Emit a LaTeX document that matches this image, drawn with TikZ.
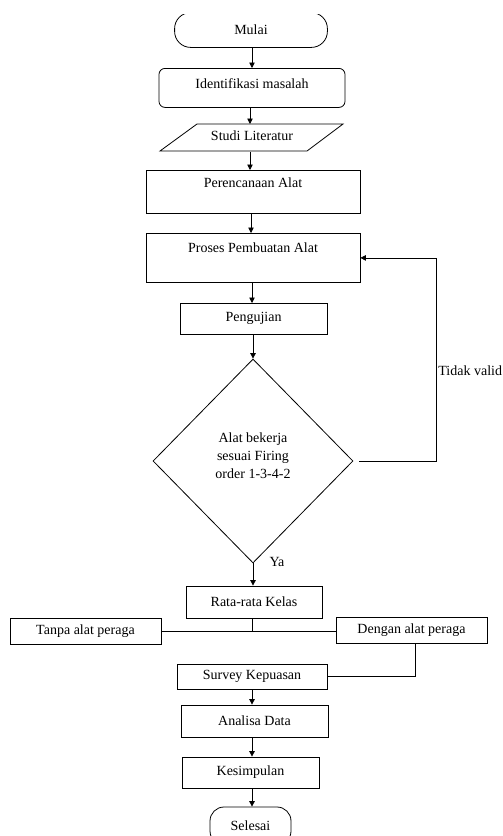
\documentclass[tikz,border=0pt]{standalone}
\usepackage{fontspec}
\setmainfont{Liberation Serif}
\usetikzlibrary{shapes.geometric,arrows.meta,calc}
\begin{document}
\begin{tikzpicture}[x=1pt,y=-1pt,
  font=\fontsize{14}{18}\selectfont,
  line width=0.8pt,
  box/.style={draw, rectangle, inner sep=0pt},
  txt/.style={inner sep=0pt},
  arr/.style={-{Triangle[length=5.5pt,width=5.5pt]}}]
\useasboundingbox (0,0) rectangle (503,836);
\clip (0,0) rectangle (503,836);

% Start terminator (top edge cut off by the page edge in the reference)
\node[txt, minimum width=152, minimum height=34] (mulai) at (251,30) {Mulai};
\begin{scope}
  \clip (150,14.5) rectangle (350,60);
  \draw[rounded corners=16] (mulai.south west) rectangle (mulai.north east);
\end{scope}

\node[box, rounded corners=6, minimum width=186, text height=20, text depth=19, anchor=north] (ident) at (252,68) {Identifikasi masalah};

\node[txt, minimum width=146, text height=16, text depth=11, anchor=north] (studi) at (252,124) {Studi Literatur};
\draw (197,124) -- (343,124) -- (307,151) -- (160,151) -- cycle;

\node[box, minimum width=214, text height=17, text depth=26, anchor=north] (renc) at (253,170) {Perencanaan Alat};
\node[box, minimum width=214, text height=19, text depth=30, anchor=north] (proses) at (253,233) {Proses Pembuatan Alat};
\node[box, minimum width=147, text height=18, text depth=13, anchor=north] (peng) at (253.5,303) {Pengujian};

\node[diamond, draw, minimum width=200, minimum height=204, inner sep=0pt] (dia) at (253,461) {};
\node[txt, align=center] (diatext) at (253,456) {Alat bekerja\\sesuai Firing\\order 1-3-4-2};
\node[txt] (ya) at (277,562) {Ya};
\node[txt, anchor=west] (tv) at (438,371) {Tidak valid};

\node[box, minimum width=136, minimum height=32] (rata) at (254,602) {Rata-rata Kelas};
\node[box, minimum width=151, minimum height=26] (tanpa) at (85.5,631) {Tanpa alat peraga};
\node[box, minimum width=151, minimum height=26] (dengan) at (411.5,630.5) {Dengan alat peraga};
\node[box, minimum width=150, minimum height=25] (survey) at (252,676.5) {Survey Kepuasan};
\node[box, minimum width=147, minimum height=32] (analisa) at (254.5,721) {Analisa Data};
\node[box, minimum width=137, minimum height=31] (kes) at (250.5,772.5) {Kesimpulan};
\node[box, rounded corners=14, minimum width=81, minimum height=38] (selesai) at (250.5,826) {Selesai};

% connectors
\coordinate (ax) at (252,0);
\coordinate (fb) at (436,0);
\coordinate (dj) at (415,0);
\draw[arr] (mulai.south -| ax) -- (ident.north -| ax);
\draw[arr] (ident.south -| 250,0) -- (studi.north -| 250,0);
\draw[arr] (studi.south -| 250,0) -- (renc.north -| 250,0);
\draw[arr] (renc.south -| 251,0) -- (proses.north -| 251,0);
\draw[arr] (proses.south -| ax) -- (peng.north -| ax);
\draw[arr] (peng.south -| dia.north) -- (dia.north);
\draw[arr] ([xshift=6pt]dia.east) -- (fb |- dia.east) -- (fb |- proses.east) -- (proses.east);
\draw[arr] (dia.south) -- (dia.south |- rata.north);
\draw (rata.south -| ax) -- (tanpa.east -| ax);
\draw (tanpa.east) -- (tanpa.east -| dengan.west);
\draw (dengan.south -| dj) -- (dj |- survey.east) -- (survey.east);
\draw[arr] (survey.south -| ax) -- (analisa.north -| ax);
\draw[arr] (analisa.south -| ax) -- (kes.north -| ax);
\draw[arr] (kes.south -| ax) -- (selesai.north -| ax);
\end{tikzpicture}
\end{document}
